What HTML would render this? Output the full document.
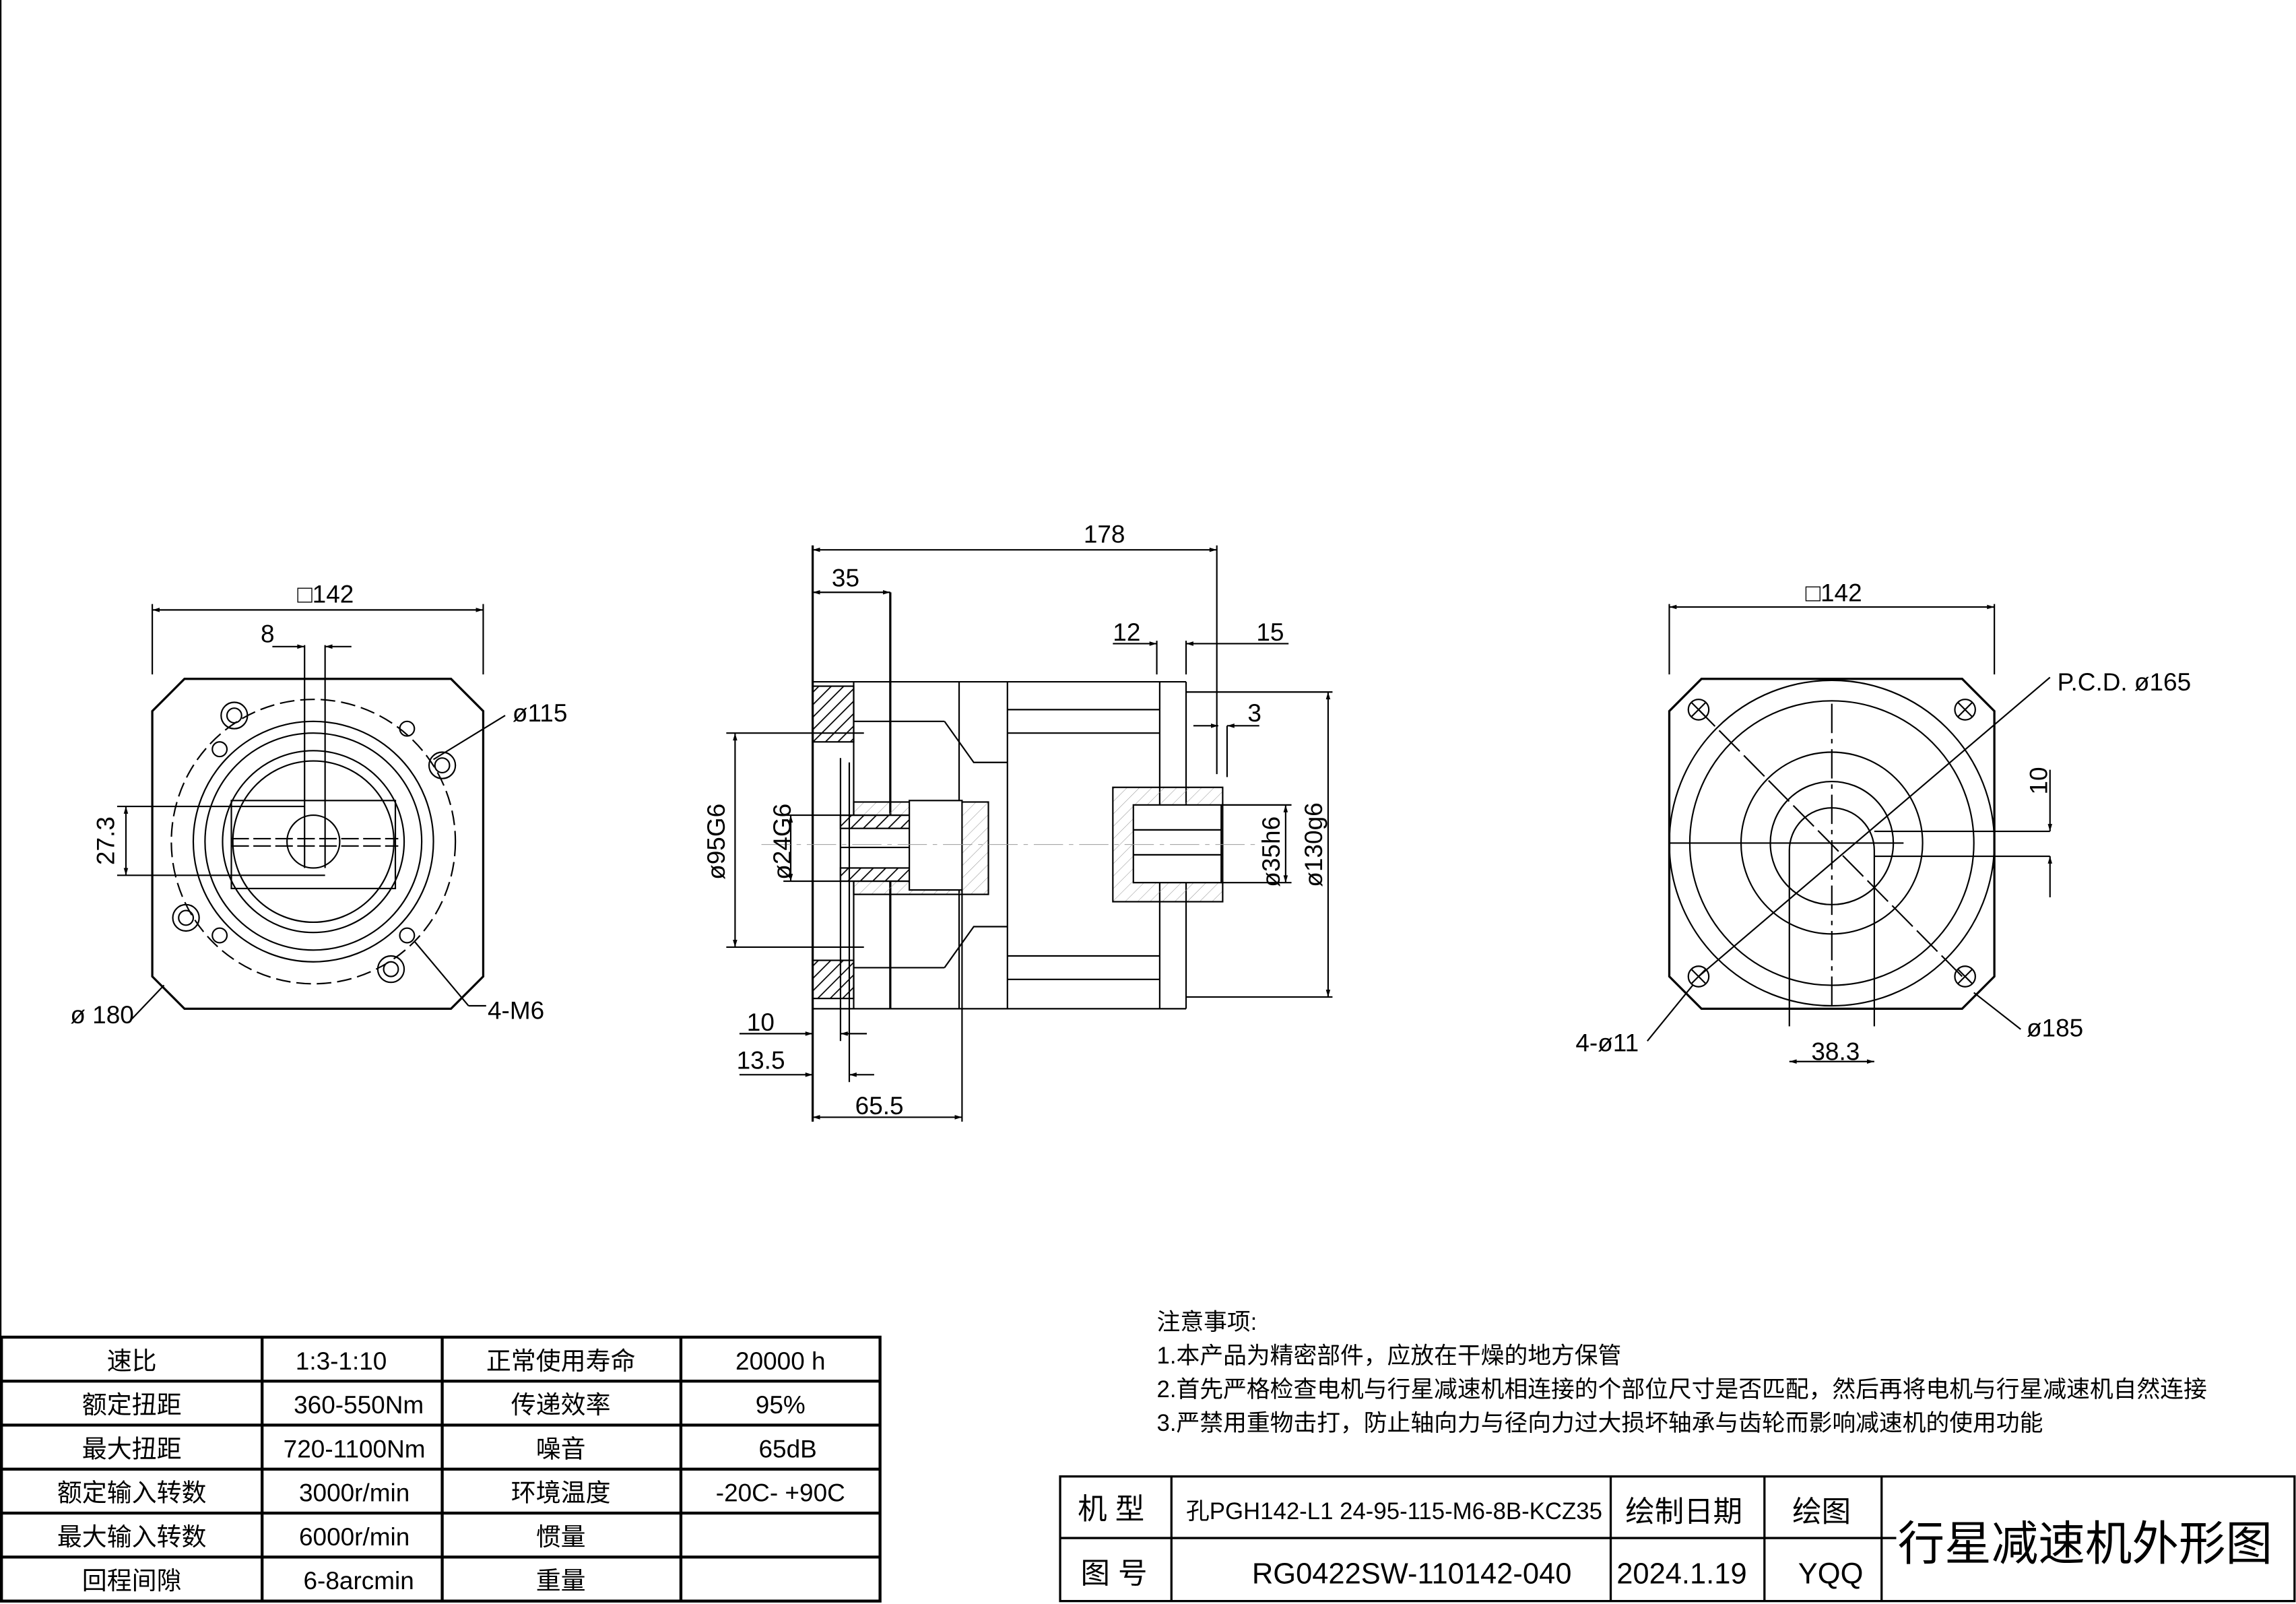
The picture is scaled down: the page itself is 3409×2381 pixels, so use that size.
<!DOCTYPE html>
<html><head><meta charset="utf-8"><style>
html,body{margin:0;padding:0;background:#fff}
svg{display:block}
text{font-family:"Liberation Sans","Noto Sans CJK SC",sans-serif;fill:#000}
</style></head><body>
<svg width="3409" height="2381" viewBox="0 0 1568 1094" preserveAspectRatio="none" xmlns="http://www.w3.org/2000/svg">
<defs>
<pattern id="h" width="6" height="6" patternUnits="userSpaceOnUse" patternTransform="rotate(45)"><line x1="0" y1="0" x2="0" y2="6" stroke="#000" stroke-width="1.6"/></pattern>
<pattern id="h2" width="6" height="6" patternUnits="userSpaceOnUse" patternTransform="rotate(45)"><line x1="0" y1="0" x2="0" y2="6" stroke="#999" stroke-width="0.5"/></pattern>
<marker id="a" viewBox="0 0 10 10" refX="10" refY="5" markerWidth="8" markerHeight="5" orient="auto-start-reverse"><path d="M0,2L10,5L0,8z" fill="#000"/></marker>
</defs>
<g fill="none" stroke="#000" stroke-width="1">
<line x1="0.5" y1="0" x2="0.5" y2="912"/>
<path d="M126,463H308L330,485V666L308,688H126L104,666V485Z" stroke-width="1.5"/>
<circle cx="214" cy="574" r="97" stroke-dasharray="10,4"/>
<circle cx="214" cy="574" r="82"/>
<circle cx="214" cy="574" r="74"/>
<circle cx="214" cy="574" r="62"/>
<circle cx="214" cy="574" r="55"/>
<circle cx="214" cy="574" r="18"/>
<rect x="158" y="546" width="112" height="60"/>
<line x1="158" y1="572" x2="272" y2="572" stroke-dasharray="12,3"/>
<line x1="158" y1="577" x2="272" y2="577" stroke-dasharray="12,3"/>
<circle cx="160" cy="488" r="9"/><circle cx="160" cy="488" r="5"/>
<circle cx="302" cy="522" r="9"/><circle cx="302" cy="522" r="5"/>
<circle cx="127" cy="626" r="9"/><circle cx="127" cy="626" r="5"/>
<circle cx="267" cy="661" r="9"/><circle cx="267" cy="661" r="5"/>
<circle cx="150" cy="511" r="5"/><circle cx="278" cy="497" r="5"/>
<circle cx="150" cy="638" r="5"/><circle cx="278" cy="638" r="5"/>
<line x1="208" y1="440" x2="208" y2="592"/><line x1="222" y1="440" x2="222" y2="592"/>
<line x1="186" y1="441" x2="208" y2="441" marker-end="url(#a)"/><line x1="240" y1="441" x2="222" y2="441" marker-end="url(#a)"/>
<line x1="104" y1="412" x2="104" y2="460"/><line x1="330" y1="412" x2="330" y2="460"/>
<line x1="104" y1="416" x2="330" y2="416" marker-start="url(#a)" marker-end="url(#a)"/>
<line x1="80" y1="550" x2="208" y2="550"/><line x1="80" y1="597" x2="222" y2="597"/>
<line x1="86" y1="550" x2="86" y2="597" marker-start="url(#a)" marker-end="url(#a)"/>
<line x1="296" y1="518" x2="345" y2="488"/>
<line x1="283" y1="642" x2="320" y2="686"/>
<line x1="320" y1="686" x2="332" y2="686"/>
<line x1="90" y1="695" x2="112" y2="672"/>
<rect x="555" y="468" width="28" height="38" fill="url(#h)"/>
<rect x="555" y="655" width="28" height="26" fill="url(#h)"/>
<line x1="555" y1="372" x2="555" y2="765" stroke-width="1.5"/>
<line x1="555" y1="465" x2="810" y2="465"/>
<line x1="555" y1="688" x2="810" y2="688"/>
<line x1="583" y1="465" x2="583" y2="688"/>
<line x1="608" y1="404" x2="608" y2="688" stroke-width="1.5"/>
<line x1="655" y1="465" x2="655" y2="688"/>
<line x1="688" y1="465" x2="688" y2="688"/>
<line x1="810" y1="465" x2="810" y2="688"/>
<line x1="792" y1="465" x2="792" y2="688"/>
<line x1="583" y1="492" x2="645" y2="492"/><path d="M645,492L665,520H688"/>
<line x1="583" y1="660" x2="645" y2="660"/><path d="M645,660L665,632H688"/>
<line x1="688" y1="484" x2="792" y2="484"/><line x1="688" y1="500" x2="792" y2="500"/>
<line x1="688" y1="652" x2="792" y2="652"/><line x1="688" y1="668" x2="792" y2="668"/>
<rect x="583" y="547" width="92" height="63" fill="url(#h2)"/>
<rect x="574" y="556" width="55" height="45" fill="#fff"/>
<rect x="574" y="556" width="50" height="9" fill="url(#h)"/>
<rect x="574" y="592" width="50" height="9" fill="url(#h)"/>
<line x1="574" y1="578" x2="624" y2="578"/>
<rect x="621" y="546" width="36" height="61" fill="#fff"/>
<line x1="574" y1="517" x2="574" y2="680"/><line x1="580" y1="520" x2="580" y2="680"/>
<line x1="810" y1="472" x2="910" y2="472"/><line x1="810" y1="680" x2="910" y2="680"/>
<line x1="831" y1="372" x2="831" y2="528"/>
<rect x="760" y="537" width="75" height="78" fill="url(#h2)"/>
<rect x="774" y="549" width="60" height="53" fill="#fff"/>
<line x1="774" y1="566" x2="834" y2="566"/><line x1="774" y1="583" x2="834" y2="583"/>
<line x1="834" y1="549" x2="882" y2="549"/><line x1="834" y1="602" x2="882" y2="602"/>
<line x1="555" y1="375" x2="831" y2="375" marker-start="url(#a)" marker-end="url(#a)"/>
<line x1="555" y1="404" x2="608" y2="404" marker-start="url(#a)" marker-end="url(#a)"/>
<line x1="790" y1="437" x2="790" y2="460"/><line x1="810" y1="437" x2="810" y2="460"/>
<line x1="760" y1="439" x2="790" y2="439" marker-end="url(#a)"/>
<line x1="831" y1="439" x2="810" y2="439" marker-end="url(#a)"/>
<line x1="831" y1="439" x2="880" y2="439"/>
<line x1="815" y1="495" x2="832" y2="495" marker-end="url(#a)"/>
<line x1="860" y1="495" x2="838" y2="495" marker-end="url(#a)"/>
<line x1="838" y1="495" x2="838" y2="530"/>
<line x1="496" y1="500" x2="590" y2="500"/><line x1="496" y1="646" x2="590" y2="646"/>
<line x1="502" y1="500" x2="502" y2="646" marker-start="url(#a)" marker-end="url(#a)"/>
<line x1="535" y1="556" x2="574" y2="556"/><line x1="535" y1="601" x2="574" y2="601"/>
<line x1="540" y1="556" x2="540" y2="601" marker-start="url(#a)" marker-end="url(#a)"/>
<line x1="878" y1="549" x2="878" y2="602" marker-start="url(#a)" marker-end="url(#a)"/>
<line x1="907" y1="472" x2="907" y2="680" marker-start="url(#a)" marker-end="url(#a)"/>
<line x1="505" y1="705" x2="555" y2="705" marker-end="url(#a)"/>
<line x1="592" y1="705" x2="574" y2="705" marker-end="url(#a)"/>
<line x1="505" y1="733" x2="555" y2="733" marker-end="url(#a)"/>
<line x1="597" y1="733" x2="580" y2="733" marker-end="url(#a)"/>
<line x1="574" y1="680" x2="574" y2="710"/><line x1="580" y1="680" x2="580" y2="738"/>
<line x1="657" y1="607" x2="657" y2="765"/>
<line x1="555" y1="762" x2="657" y2="762" marker-start="url(#a)" marker-end="url(#a)"/>
<line x1="520" y1="576" x2="860" y2="576" stroke="#999" stroke-width="0.5" stroke-dasharray="20,4,3,4"/>
<path d="M1162,463H1340L1362,485V666L1340,688H1162L1140,666V485Z" stroke-width="1.5"/>
<circle cx="1251" cy="575" r="111"/>
<circle cx="1251" cy="575" r="97"/>
<circle cx="1251" cy="575" r="62"/>
<circle cx="1251" cy="575" r="42"/>
<path d="M1222,580V700M1280,580V700M1222,580A29,29 0 0 1 1280,580"/>
<line x1="1280" y1="567" x2="1400" y2="567"/><line x1="1280" y1="584" x2="1400" y2="584"/>
<line x1="1140" y1="575" x2="1300" y2="575"/>
<line x1="1251" y1="480" x2="1251" y2="690" stroke-dasharray="20,4,3,4"/>
<line x1="1160" y1="666" x2="1400" y2="462"/>
<line x1="1340" y1="666" x2="1160" y2="484" stroke-dasharray="20,4"/>
<g>
<circle cx="1160" cy="484" r="7"/><path d="M1155,479l10,10M1165,479l-10,10"/>
<circle cx="1342" cy="484" r="7"/><path d="M1337,479l10,10M1347,479l-10,10"/>
<circle cx="1160" cy="666" r="7"/><path d="M1155,661l10,10M1165,661l-10,10"/>
<circle cx="1342" cy="666" r="7"/><path d="M1337,661l10,10M1347,661l-10,10"/>
</g>
<line x1="1140" y1="412" x2="1140" y2="460"/><line x1="1362" y1="412" x2="1362" y2="460"/>
<line x1="1140" y1="414" x2="1362" y2="414" marker-start="url(#a)" marker-end="url(#a)"/>
<line x1="1400" y1="525" x2="1400" y2="567" marker-end="url(#a)"/>
<line x1="1400" y1="612" x2="1400" y2="584" marker-end="url(#a)"/>
<line x1="1222" y1="724" x2="1280" y2="724" marker-start="url(#a)" marker-end="url(#a)"/>
<line x1="1125" y1="710" x2="1156" y2="672"/><line x1="1348" y1="677" x2="1380" y2="702"/>
<g stroke-width="2">
<rect x="1" y="912" width="600" height="180"/>
<line x1="1" y1="942" x2="601" y2="942"/><line x1="1" y1="972" x2="601" y2="972"/>
<line x1="1" y1="1002" x2="601" y2="1002"/><line x1="1" y1="1032" x2="601" y2="1032"/>
<line x1="1" y1="1062" x2="601" y2="1062"/>
<line x1="179" y1="912" x2="179" y2="1092"/><line x1="302" y1="912" x2="302" y2="1092"/>
<line x1="465" y1="912" x2="465" y2="1092"/>
</g>
<g stroke-width="1.5">
<rect x="724" y="1007" width="843" height="85"/>
<line x1="724" y1="1049" x2="1295" y2="1049"/>
<line x1="800" y1="1007" x2="800" y2="1092"/><line x1="1100" y1="1007" x2="1100" y2="1092"/>
<line x1="1205" y1="1007" x2="1205" y2="1092"/><line x1="1285" y1="1007" x2="1285" y2="1092"/>
</g>
</g>
<g font-size="17">
<text x="203" y="411">□142</text><text x="178" y="438">8</text>
<text x="350" y="492">ø115</text>
<text x="78" y="590" transform="rotate(-90 78 590)">27.3</text>
<text x="48" y="698">ø 180</text><text x="333" y="695">4-M6</text>
<text x="740" y="370">178</text><text x="568" y="400">35</text>
<text x="760" y="437">12</text><text x="858" y="437">15</text><text x="852" y="492">3</text>
<text x="495" y="600" transform="rotate(-90 495 600)">ø95G6</text>
<text x="540" y="600" transform="rotate(-90 540 600)">ø24G6</text>
<text x="874" y="605" transform="rotate(-90 874 605)">ø35h6</text>
<text x="903" y="605" transform="rotate(-90 903 605)">ø130g6</text>
<text x="510" y="703">10</text><text x="503" y="729">13.5</text><text x="584" y="760">65.5</text>
<text x="1233" y="410">□142</text><text x="1405" y="471">P.C.D. ø165</text>
<text x="1398" y="542" transform="rotate(-90 1398 542)">10</text>
<text x="1076" y="717">4-ø11</text><text x="1384" y="707">ø185</text>
<text x="1237" y="723">38.3</text>
</g>
<g font-size="17" text-anchor="middle">
<text x="90" y="934">速比</text><text x="233" y="934">1:3-1:10</text><text x="383" y="934">正常使用寿命</text><text x="533" y="934">20000 h</text>
<text x="90" y="964">额定扭距</text><text x="245" y="964">360-550Nm</text><text x="383" y="964">传递效率</text><text x="533" y="964">95%</text>
<text x="90" y="994">最大扭距</text><text x="242" y="994">720-1100Nm</text><text x="383" y="994">噪音</text><text x="538" y="994">65dB</text>
<text x="90" y="1024">额定输入转数</text><text x="242" y="1024">3000r/min</text><text x="383" y="1024">环境温度</text><text x="533" y="1024">-20C- +90C</text>
<text x="90" y="1054">最大输入转数</text><text x="242" y="1054">6000r/min</text><text x="383" y="1054">惯量</text>
<text x="90" y="1084">回程间隙</text><text x="245" y="1084">6-8arcmin</text><text x="383" y="1084">重量</text>
</g>
<g font-size="16">
<text x="790" y="907">注意事项:</text>
<text x="790" y="930">1.本产品为精密部件，应放在干燥的地方保管</text>
<text x="790" y="953">2.首先严格检查电机与行星减速机相连接的个部位尺寸是否匹配，然后再将电机与行星减速机自然连接</text>
<text x="790" y="976">3.严禁用重物击打，防止轴向力与径向力过大损坏轴承与齿轮而影响减速机的使用功能</text>
</g>
<g font-size="20">
<text x="736" y="1036">机 型</text><text x="738" y="1080">图 号</text>
<text x="810" y="1036" font-size="16" font-family="Liberation Serif,serif">孔PGH142-L1 24-95-115-M6-8B-KCZ35</text>
<text x="855" y="1080">RG0422SW-110142-040</text>
<text x="1110" y="1038">绘制日期</text><text x="1104" y="1080">2024.1.19</text>
<text x="1224" y="1038">绘图</text><text x="1228" y="1080">YQQ</text>
<text x="1296" y="1064" font-size="32">行星减速机外形图</text>
</g>
</svg>
</body></html>
